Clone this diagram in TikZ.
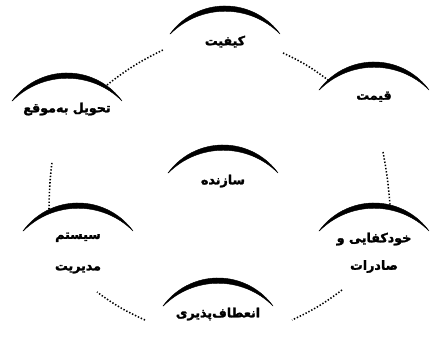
\documentclass[tikz,border=0pt]{standalone}
\usepackage{fontspec}
\newfontfamily\farsi[Script=Arabic, FakeBold=2]{DejaVu Sans}
\TeXXeTstate=1
\usetikzlibrary{calc}

\begin{document}
\begin{tikzpicture}[
  hub/.style={anchor=north, align=center, font=\farsi\bfseries\small, inner sep=1pt},
  archfill/.style={fill=black, draw=black, line width=0.3pt},
  ring/.style={line width=1.1pt, dash pattern=on 1pt off 1.3pt}
]
\useasboundingbox (0,0) rectangle (10.75,8.725);

% stations round the ring
\node[hub] (quality) at (5.625,7.875) {\beginR کیفیت\endR};
\node[hub] (price) at (9.35,6.475) {\beginR قیمت\endR};
\node[hub] (export) at (9.35,2.95) {\beginR خودکفایی و\endR\\[3mm]\beginR صادرات\endR};
\node[hub] (flex) at (5.45,1.075) {\beginR انعطاف‌پذیری\endR};
\node[hub] (system) at (1.95,2.95) {\beginR سیستم\endR\\[4mm]\beginR مدیریت\endR};
\node[hub] (delivery) at (1.675,6.2) {\beginR تحویل به‌موقع\endR};
\node[hub] (maker) at (5.575,4.4) {\beginR سازنده\endR};

% arch over every station
\foreach \n in {quality,price,export,flex,system,delivery,maker}
  \filldraw[archfill] ($(\n.north)+(-1.375,0)$) arc[start angle=144, end angle=36, radius=1.7]
    arc[start angle=45, end angle=135, radius=1.94] -- cycle;

% dotted ring, clockwise
\draw[ring] ($(delivery.north)+(1.0,0.4)$) to[bend left=6] ($(quality.north)+(-1.55,-0.4)$);
\draw[ring] ($(quality.north)+(1.45,-0.475)$) to[bend left=6] ($(price.north)+(-1.15,0.25)$);
\draw[ring] ($(price.north)+(0.225,-1.55)$) to[bend left=3] ($(export.north)+(0.4,0.64)$);
\draw[ring] ($(export.north)+(-0.8,-1.475)$) to[bend left=6] ($(flex.north)+(1.85,-0.35)$);
\draw[ring] ($(flex.north)+(-1.825,-0.35)$) to[bend left=6] ($(system.north)+(0.475,-1.525)$);
\draw[ring] ($(system.north)+(-0.725,0.54)$) to[bend left=3] ($(delivery.north)+(-0.375,-1.525)$);

\end{tikzpicture}
\end{document}
